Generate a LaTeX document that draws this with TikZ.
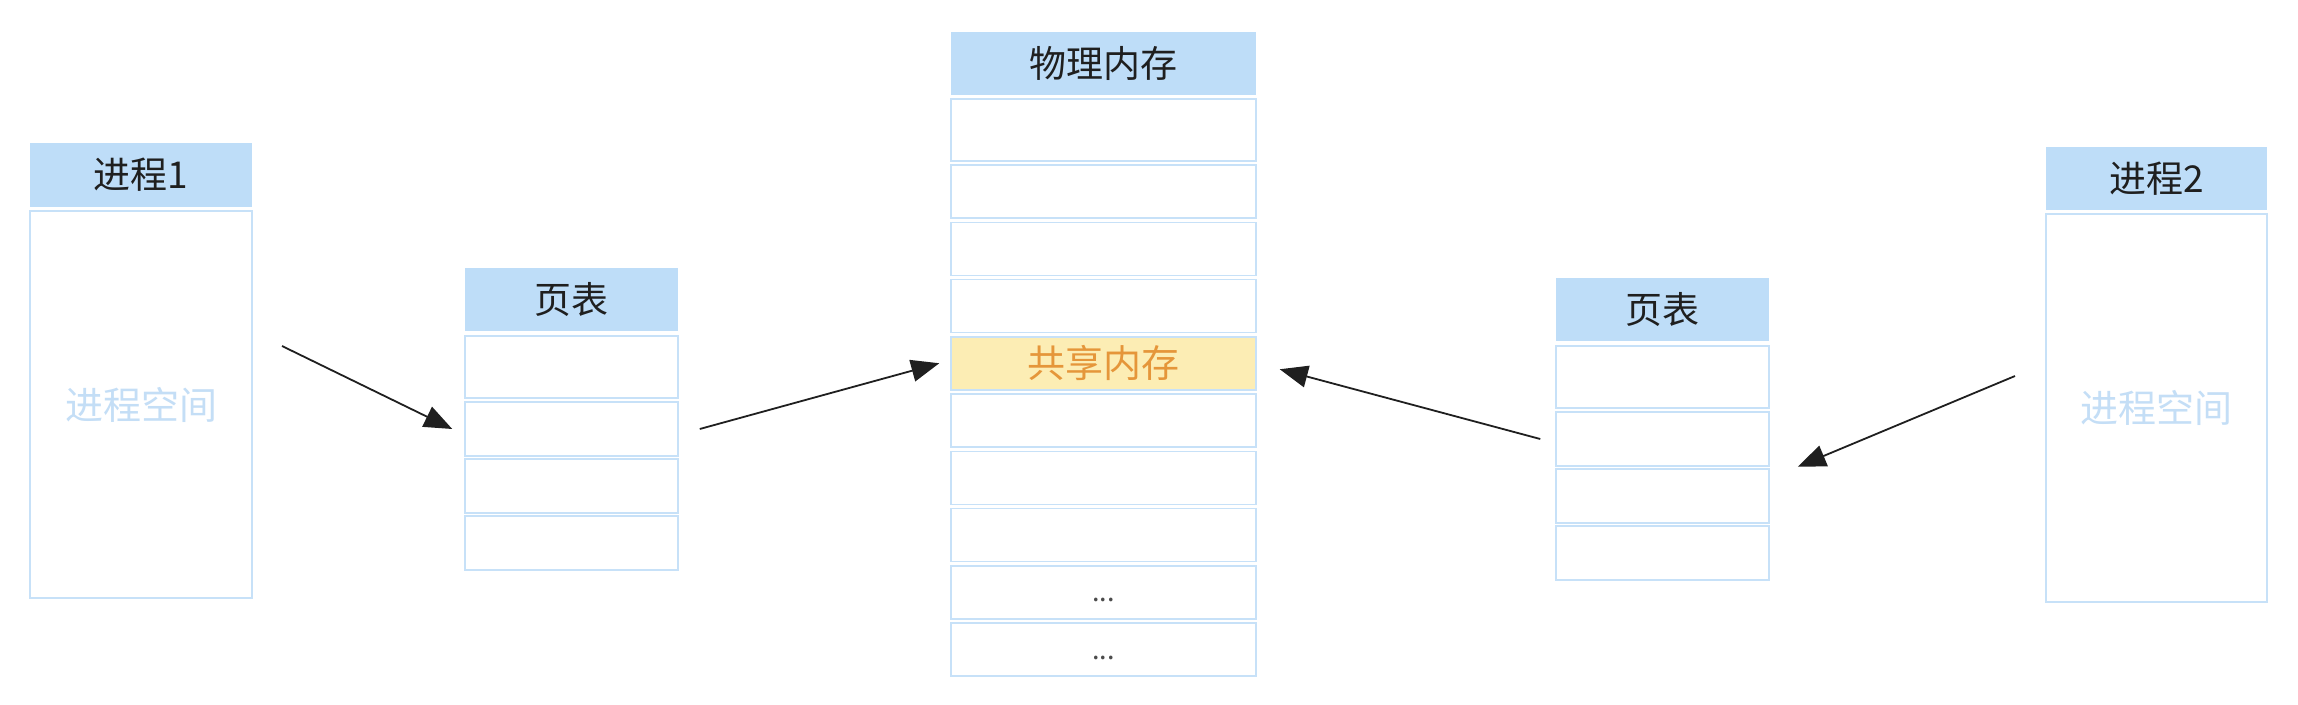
\documentclass[tikz,border=0pt]{standalone}
\usepackage{fontspec}
\setmainfont{Noto Sans CJK SC}
\usetikzlibrary{arrows.meta}
\definecolor{headblue}{HTML}{BEDDF8}
\definecolor{lineblue}{HTML}{C7E1F8}
\definecolor{shareyellow}{HTML}{FCEDB4}
\definecolor{shareorange}{HTML}{E5963A}
\definecolor{spaceblue}{HTML}{C4DEF6}

\begin{document}
\begin{tikzpicture}[x=1pt,y=-1pt,
    head/.style={fill=headblue, inner sep=0pt, font=\fontsize{37}{42}\selectfont, text=black!88},
    cell/.style={draw=lineblue, line width=1.5pt, fill=white, inner sep=0pt},
    arr/.style={-{Triangle[length=28pt,width=22pt]}, line width=1.8pt, draw=black!88}]
    \useasboundingbox (0,0) rectangle (2298,704);

    % Process 1
    \node[head, minimum width=222pt, minimum height=64pt] (p1head) at (141,175) {进程1};
    \node[cell, minimum width=222pt, minimum height=387pt, text=spaceblue, font=\fontsize{38}{42}\selectfont] (p1body) at (141,404.5) {进程空间};

    % Page table of process 1
    \node[head, minimum width=213pt, minimum height=63pt] (pt1head) at (571.5,299.5) {页表};
    \node[cell, minimum width=213pt, minimum height=62pt] (pt1r1) at (571.5,367) {};
    \foreach \i/\y in {2/429,3/486,4/543}
        \node[cell, minimum width=213pt, minimum height=54pt] (pt1r\i) at (571.5,\y) {};

    % Physical memory
    \node[head, minimum width=305pt, minimum height=63pt] (pmhead) at (1103.5,63.5) {物理内存};
    \node[cell, minimum width=305pt, minimum height=62pt] (pm1) at (1103.5,130) {};
    \foreach \i in {2,3,4,6,7,8}
        \node[cell, minimum width=305pt, minimum height=53pt] (pm\i) at (1103.5,{191.5+(\i-2)*57.25}) {};
    \node[cell, fill=shareyellow, text=shareorange, font=\fontsize{38}{42}\selectfont, minimum width=305pt, minimum height=53pt] (pm5) at (1103.5,363.25) {共享内存};
    \foreach \i in {9,10}
        \node[cell, text=black!70, font=\fontsize{27}{30}\selectfont, minimum width=305pt, minimum height=53pt] (pm\i) at (1103.5,{191.5+(\i-2)*57.25}) {\vphantom{0}...};

    % Page table of process 2
    \node[head, minimum width=213pt, minimum height=63pt] (pt2head) at (1662.5,309.5) {页表};
    \node[cell, minimum width=213pt, minimum height=62pt] (pt2r1) at (1662.5,377) {};
    \foreach \i/\y in {2/439,3/496,4/553}
        \node[cell, minimum width=213pt, minimum height=54pt] (pt2r\i) at (1662.5,\y) {};

    % Process 2
    \node[head, minimum width=221pt, minimum height=63pt] (p2head) at (2156.5,178.5) {进程2};
    \node[cell, minimum width=221pt, minimum height=388pt, text=spaceblue, font=\fontsize{38}{42}\selectfont] (p2body) at (2156.5,408) {进程空间};

    % Mappings
    \coordinate (p1out) at (282,346);
    \coordinate (p2out) at (2015,376);
    \draw[arr] (p1out) -- ([xshift=-12pt]pt1r2.west);
    \draw[arr] ([xshift=21pt]pt1r2.east) -- ([xshift=-11pt]pm5.west);
    \draw[arr] ([xshift=-15pt]pt2r2.west) -- ([xshift=23pt,yshift=-6pt]pm5.east);
    \draw[arr] (p2out) -- ([xshift=28pt]pt2r2.south east);
\end{tikzpicture}
\end{document}
